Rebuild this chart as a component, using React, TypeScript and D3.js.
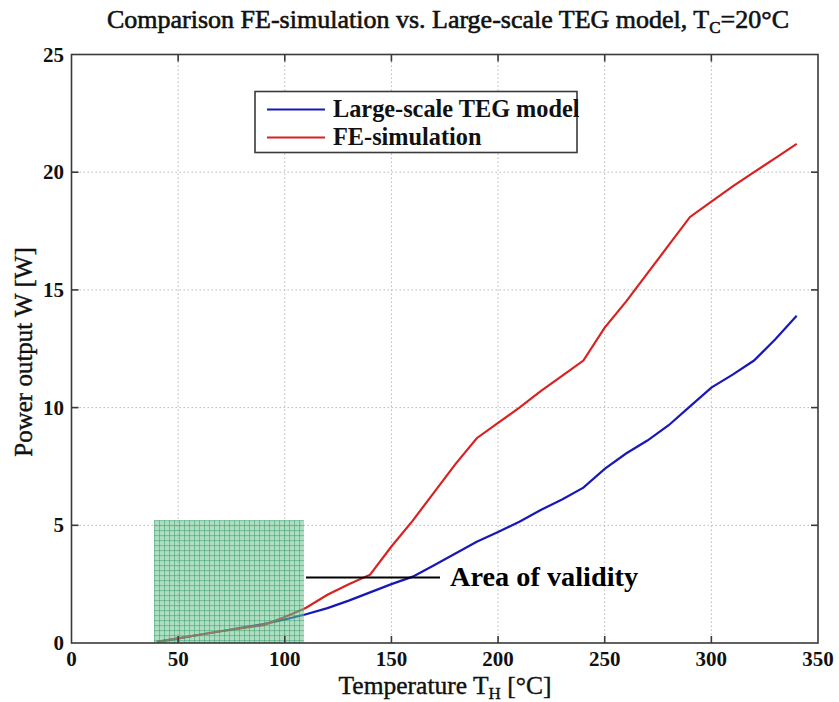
import React from "react";
import * as d3 from "d3";

const temps = [40, 50, 60, 70, 80, 90, 100, 110, 120, 130, 140, 150, 160, 170, 180, 190, 200, 210, 220, 230, 240, 250, 260, 270, 280, 290, 300, 310, 320, 330, 340];
const largeScaleTEG = [0.05, 0.2, 0.35, 0.5, 0.65, 0.8, 1.0, 1.22, 1.48, 1.8, 2.15, 2.5, 2.82, 3.3, 3.8, 4.3, 4.72, 5.15, 5.65, 6.1, 6.6, 7.4, 8.05, 8.6, 9.25, 10.05, 10.85, 11.4, 12.0, 12.9, 13.9];
const feSimulation = [0.05, 0.2, 0.35, 0.5, 0.63, 0.76, 1.1, 1.5, 2.05, 2.5, 2.9, 4.1, 5.2, 6.4, 7.6, 8.7, 9.35, 10.0, 10.7, 11.35, 12.0, 13.4, 14.5, 15.7, 16.9, 18.1, 18.75, 19.4, 20.0, 20.6, 21.2];
const xTicks = [0, 50, 100, 150, 200, 250, 300, 350];
const yTicks = [0, 5, 10, 15, 20, 25];
const validity = { t0: 38.7, t1: 109, w: 5.22 };
const seriesNames = ["Large-scale TEG model", "FE-simulation"];

const W = 839, H = 702;
const SERIF = "'Liberation Serif', 'DejaVu Serif', serif";

export default function App() {
  const x = d3.scaleLinear().domain([0, 350]).range([71.5, 818]);
  const y = d3.scaleLinear().domain([0, 25]).range([643, 54.5]);
  const line = d3.line<number>().x((_, i) => x(temps[i])).y((d) => y(d));
  const [x0, x1] = x.range();
  const [yb, yt] = y.range();
  const rx0 = x(validity.t0), rx1 = x(validity.t1), ry = y(validity.w);
  const ann = { x0: 306, x1: 440, y: 577.5 };
  return (
    <svg width={W} height={H} style={{ position: "absolute", left: 0, top: 0, background: "#fff" }}>
      <defs>
        <pattern id="grid" width="5" height="5" patternUnits="userSpaceOnUse" x={rx0} y={ry}>
          <rect width="5" height="5" fill="rgba(110,195,145,0.55)" />
          <path d="M0 0.5 H5 M0.5 0 V5" stroke="rgba(40,150,95,0.6)" strokeWidth="0.8" />
        </pattern>
        <clipPath id="plot"><rect x={x0} y={yt} width={x1 - x0} height={yb - yt} /></clipPath>
      </defs>
      <rect width={W} height={H} fill="#fff" />
      {xTicks.slice(1, -1).map((t) => (
        <line key={"gx" + t} x1={x(t)} x2={x(t)} y1={yb} y2={yt} stroke="#b8b8b8" strokeDasharray="1.5 2.5" strokeWidth={1} />
      ))}
      {yTicks.slice(1, -1).map((t) => (
        <line key={"gy" + t} x1={x0} x2={x1} y1={y(t)} y2={y(t)} stroke="#b8b8b8" strokeDasharray="1.5 2.5" strokeWidth={1} />
      ))}
      <g clipPath="url(#plot)">
        <path d={line(largeScaleTEG) || ""} fill="none" stroke="#1818b8" strokeWidth={2.2} />
        <path d={line(feSimulation) || ""} fill="none" stroke="#d82222" strokeWidth={2.2} />
      </g>
      <rect x={rx0} y={ry} width={rx1 - rx0} height={yb - ry} fill="url(#grid)" />
      <rect x={x0} y={yt} width={x1 - x0} height={yb - yt} fill="none" stroke="#3a3a3a" strokeWidth={1.6} />
      {xTicks.slice(1, -1).map((t) => (
        <g key={"tx" + t} stroke="#3a3a3a" strokeWidth={1.6}>
          <line x1={x(t)} x2={x(t)} y1={yb} y2={yb - 7} />
          <line x1={x(t)} x2={x(t)} y1={yt} y2={yt + 7} />
        </g>
      ))}
      {yTicks.slice(1, -1).map((t) => (
        <g key={"ty" + t} stroke="#3a3a3a" strokeWidth={1.6}>
          <line x1={x0} x2={x0 + 7} y1={y(t)} y2={y(t)} />
          <line x1={x1} x2={x1 - 7} y1={y(t)} y2={y(t)} />
        </g>
      ))}
      {xTicks.map((t) => (
        <text key={"lx" + t} x={x(t)} y={666} textAnchor="middle" fontFamily={SERIF} fontWeight="bold" fontSize={21} fill="#111">{t}</text>
      ))}
      {yTicks.map((t) => (
        <text key={"ly" + t} x={64} y={y(t) + 7} textAnchor="end" fontFamily={SERIF} fontWeight="bold" fontSize={21} fill="#111">{t}</text>
      ))}
      <text x={448} y={28} textAnchor="middle" fontFamily={SERIF} fontSize={26} fill="#111" stroke="#111" strokeWidth={0.6}>
        Comparison FE-simulation vs. Large-scale TEG model, T<tspan fontSize={17} dy={5}>C</tspan><tspan dy={-5}>=20°C</tspan>
      </text>
      <text x={445} y={694} textAnchor="middle" fontFamily={SERIF} fontSize={25.5} fill="#111" stroke="#111" strokeWidth={0.4}>
        Temperature T<tspan fontSize={17} dy={5}>H</tspan><tspan dy={-5}> [°C]</tspan>
      </text>
      <text transform="translate(32,352) rotate(-90)" textAnchor="middle" fontFamily={SERIF} fontSize={25} fill="#111" stroke="#111" strokeWidth={0.4}>
        Power output W [W]
      </text>
      <rect x={255} y={91.5} width={322} height={61} fill="#fff" stroke="#3a3a3a" strokeWidth={1.6} />
      <line x1={267} x2={325} y1={109.5} y2={109.5} stroke="#1818b8" strokeWidth={2.2} />
      <line x1={267} x2={325} y1={137.5} y2={137.5} stroke="#d82222" strokeWidth={2.2} />
      <text x={333} y={117} fontFamily={SERIF} fontWeight="bold" fontSize={24.3} fill="#111">{seriesNames[0]}</text>
      <text x={333} y={145} fontFamily={SERIF} fontWeight="bold" fontSize={24.3} fill="#111">{seriesNames[1]}</text>
      <line x1={ann.x0} x2={ann.x1} y1={ann.y} y2={ann.y} stroke="#000" strokeWidth={2} />
      <text x={450} y={586} fontFamily={SERIF} fontWeight="bold" fontSize={28.3} fill="#000">Area of validity</text>
    </svg>
  );
}
